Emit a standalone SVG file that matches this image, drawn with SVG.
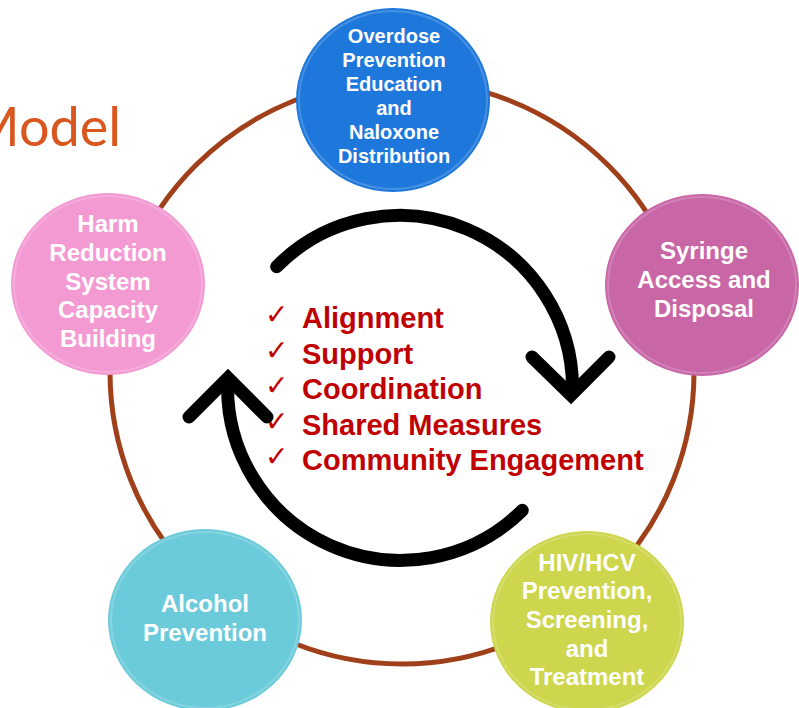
<svg xmlns="http://www.w3.org/2000/svg" width="799" height="708" viewBox="0 0 799 708">
<style>
.node-label{font-family:"Liberation Sans",Arial,sans-serif;font-weight:bold;fill:#ffffff;text-anchor:middle;font-size:24px}
.small{font-size:20px}
.rim{fill:none;stroke:#ffffff;stroke-opacity:0.18;stroke-width:2}
.item{font-family:"Liberation Sans",Arial,sans-serif;font-weight:bold;fill:#C00000;font-size:29px}
.check{font-family:"DejaVu Sans",sans-serif;fill:#C00000;font-size:28px}
.arrow{fill:none;stroke:#000000;stroke-width:13;stroke-linecap:round;stroke-linejoin:miter}
</style>
<rect width="799" height="708" fill="#ffffff"/>
<text x="121" y="146" font-family="Lato,'Open Sans',sans-serif" font-size="54" fill="#D9561F" text-anchor="end">Model</text>
<g id="connectors">
<circle cx="402" cy="372" r="292" fill="none" stroke="#A0401A" stroke-width="5"/>
<path class="arrow" d="M276.6 266.7 A173 173 0 0 1 572.5 392"/>
<polyline class="arrow" points="532,357 571,395 609,357"/>
<path class="arrow" d="M522.3 510.3 A173 173 0 0 1 227.8 379"/>
<polyline class="arrow" points="189,417 228,378 267,417"/>
</g>
<g id="node-overdose">
<ellipse cx="393" cy="100" rx="97" ry="92" fill="#1E78DC"/>
<ellipse class="rim" cx="393" cy="100" rx="94" ry="89"/>
<text class="node-label small"><tspan x="394" y="43">Overdose</tspan><tspan x="394" y="67">Prevention</tspan><tspan x="394" y="91">Education</tspan><tspan x="394" y="115">and</tspan><tspan x="394" y="139">Naloxone</tspan><tspan x="394" y="163">Distribution</tspan></text>
</g>
<g id="node-harm">
<ellipse cx="108" cy="284" rx="97" ry="91" fill="#F49AD3"/>
<ellipse class="rim" cx="108" cy="284" rx="94" ry="88"/>
<text class="node-label"><tspan x="108" y="232">Harm</tspan><tspan x="108" y="261">Reduction</tspan><tspan x="108" y="290">System</tspan><tspan x="108" y="318">Capacity</tspan><tspan x="108" y="347">Building</tspan></text>
</g>
<g id="node-syringe">
<ellipse cx="702" cy="285" rx="97" ry="91" fill="#C966A6"/>
<ellipse class="rim" cx="702" cy="285" rx="94" ry="88"/>
<text class="node-label"><tspan x="704" y="259">Syringe</tspan><tspan x="704" y="288">Access and</tspan><tspan x="704" y="317">Disposal</tspan></text>
</g>
<g id="node-alcohol">
<ellipse cx="205" cy="620" rx="97" ry="91" fill="#6CCBDA"/>
<ellipse class="rim" cx="205" cy="620" rx="94" ry="88"/>
<text class="node-label"><tspan x="205" y="612">Alcohol</tspan><tspan x="205" y="641">Prevention</tspan></text>
</g>
<g id="node-hiv">
<ellipse cx="587" cy="622" rx="97" ry="91" fill="#CDD64C"/>
<ellipse class="rim" cx="587" cy="622" rx="94" ry="88"/>
<text class="node-label"><tspan x="587" y="571">HIV/HCV</tspan><tspan x="587" y="599">Prevention,</tspan><tspan x="587" y="628">Screening,</tspan><tspan x="587" y="657">and</tspan><tspan x="587" y="685">Treatment</tspan></text>
</g>
<g id="checklist">
<text class="check" x="265" y="324">✓</text>
<text class="check" x="265" y="359.5">✓</text>
<text class="check" x="265" y="395">✓</text>
<text class="check" x="265" y="430.5">✓</text>
<text class="check" x="265" y="466">✓</text>
<text class="item" x="302" y="328">Alignment</text>
<text class="item" x="302" y="363.5">Support</text>
<text class="item" x="302" y="399">Coordination</text>
<text class="item" x="302" y="434.5">Shared Measures</text>
<text class="item" x="302" y="470">Community Engagement</text>
</g>
</svg>
